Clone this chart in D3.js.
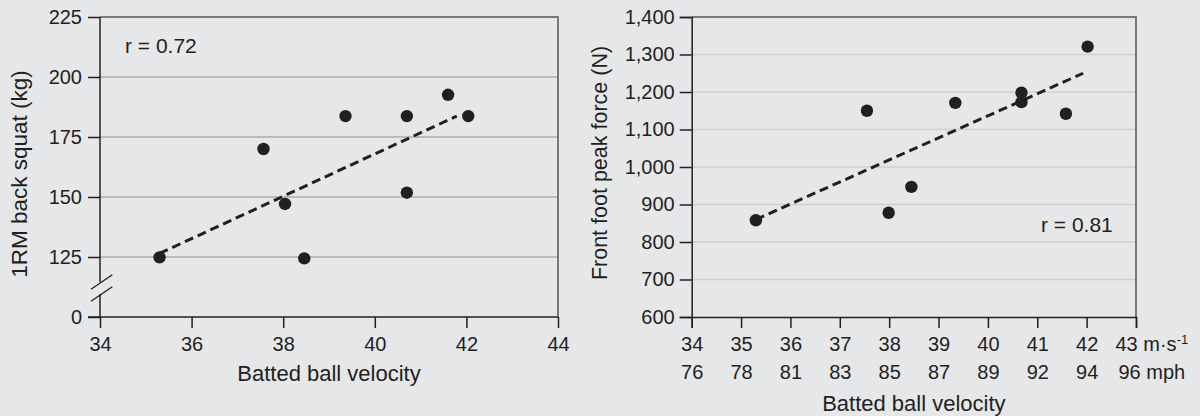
<!DOCTYPE html>
<html><head><meta charset="utf-8">
<script src="https://cdn.jsdelivr.net/npm/d3@7"></script>
<style>
html,body{margin:0;padding:0;background:#e6e7e9;}
svg{display:block;}
text{font-family:"Liberation Sans",Arial,Helvetica,sans-serif;fill:#231f20;}
</style></head>
<body>
<svg id="c" width="1200" height="416"></svg>
<script>
// ---- Data ----
const squatVelocity = [35.3, 37.57, 38.04, 38.46, 39.36, 40.70, 40.70, 41.60, 42.04];
const squatKg       = [124.3, 170.0, 147.1, 122.1, 183.7, 183.7, 151.8, 192.6, 183.7];
const squatTrendX   = [35.3, 41.79];
const squatTrendY   = [126.5, 183.7];
const squatR        = "r = 0.72";
const squatYTicks   = [0, 125, 150, 175, 200, 225];
const squatXTicks   = [34, 36, 38, 40, 42, 44];

const forceVelocity = [35.30, 37.55, 37.99, 38.45, 39.34, 40.68, 40.68, 41.58, 42.02];
const forceN        = [858, 1150, 878, 947, 1171, 1198, 1173, 1142, 1321];
const forceTrendX   = [35.3, 41.93];
const forceTrendY   = [860, 1250];
const forceR        = "r = 0.81";
const forceYTicks   = [600, 700, 800, 900, 1000, 1100, 1200, 1300, 1400];
const forceXTicks   = [34, 35, 36, 37, 38, 39, 40, 41, 42, 43];
const mphLabels     = ["76", "78", "81", "83", "85", "87", "89", "92", "94", "96"];

const xTitle = "Batted ball velocity";
const squatYTitle = "1RM back squat (kg)";
const forceYTitle = "Front foot peak force (N)";

// ---- Drawing ----
const svg = d3.select("#c");
const ink = "#231f20";
const fmtComma = d3.format(",");

svg.append("rect").attr("width",1200).attr("height",416).attr("fill","#e6e7e9");

function styleAxis(g){
  g.selectAll(".tick line").attr("stroke", ink).attr("stroke-width", 1.5);
  g.selectAll(".tick text").attr("font-size", 20).attr("fill", ink)
   .attr("font-family", '"Liberation Sans",Arial,sans-serif');
}

// ===== LEFT CHART =====
const xL = d3.scaleLinear().domain([34, 44]).range([100, 558]);
const yL = d3.scaleLinear().domain([0, 125, 225]).range([317, 257, 17]);
const L = svg.append("g");

// grid
L.selectAll("line.grid").data(squatYTicks.filter(v => v > 0 && v < 225)).join("line")
  .attr("x1", xL(34)).attr("x2", xL(44)).attr("y1", d => yL(d)).attr("y2", d => yL(d))
  .attr("stroke", "#ababab").attr("stroke-width", 1.3);
// top & right border
L.append("path").attr("d", `M${xL(34)},${yL(225)}H${xL(44)}V${yL(0)}`)
  .attr("fill","none").attr("stroke","#555").attr("stroke-width",1.5);

// axes
const axL = L.append("g").attr("transform", `translate(${xL(34)},0)`)
  .call(d3.axisLeft(yL).tickValues(squatYTicks).tickSize(12).tickPadding(6).tickFormat(d3.format("d")));
axL.select(".domain").remove();
styleAxis(axL);
// broken y axis line
const bTop = yL(0) - 35, bBot = yL(0) - 23;
L.append("line").attr("x1", xL(34)).attr("x2", xL(34)).attr("y1", yL(225)).attr("y2", bTop)
  .attr("stroke", ink).attr("stroke-width", 1.5);
L.append("line").attr("x1", xL(34)).attr("x2", xL(34)).attr("y1", bBot).attr("y2", yL(0))
  .attr("stroke", ink).attr("stroke-width", 1.5);
[bTop, bBot].forEach(yy => {
  L.append("line").attr("x1", xL(34) - 9).attr("y1", yy + 7.3).attr("x2", xL(34) + 12.3).attr("y2", yy - 7.3)
    .attr("stroke", ink).attr("stroke-width", 1.3);
});
const axLb = L.append("g").attr("transform", `translate(0,${yL(0)})`)
  .call(d3.axisBottom(xL).tickValues(squatXTicks).tickSize(11).tickPadding(9));
axLb.select(".domain").remove();
styleAxis(axLb);
L.append("line").attr("x1", xL(34) - 12).attr("x2", xL(44)).attr("y1", yL(0)).attr("y2", yL(0))
  .attr("stroke", ink).attr("stroke-width", 1.5);

// trend
L.append("line").attr("x1", xL(squatTrendX[0])).attr("y1", yL(squatTrendY[0]))
  .attr("x2", xL(squatTrendX[1])).attr("y2", yL(squatTrendY[1]))
  .attr("stroke", ink).attr("stroke-width", 3).attr("stroke-dasharray", "9,5");
// points
L.selectAll("circle").data(squatVelocity).join("circle")
  .attr("cx", d => xL(d)).attr("cy", (d,i) => yL(squatKg[i])).attr("r", 6.2).attr("fill", ink);

L.append("text").attr("x", 125).attr("y", 53).attr("font-size", 21).text(squatR);
L.append("text").attr("x", (xL(34)+xL(44))/2).attr("y", 381).attr("text-anchor","middle")
  .attr("font-size", 22).text(xTitle);
L.append("text").attr("transform", "translate(27,174) rotate(-90)").attr("text-anchor","middle")
  .attr("font-size", 22.5).text(squatYTitle);

// ===== RIGHT CHART =====
const xR = d3.scaleLinear().domain([34, 43]).range([691.7, 1136]);
const yR = d3.scaleLinear().domain([600, 1400]).range([317, 17]);
const R = svg.append("g");

R.selectAll("line.grid").data(forceYTicks.filter(v => v > 600 && v < 1400)).join("line")
  .attr("x1", xR(34)).attr("x2", xR(43)).attr("y1", d => yR(d)).attr("y2", d => yR(d))
  .attr("stroke", "#cfcfcf").attr("stroke-width", 1.3);
R.append("path").attr("d", `M${xR(34)},${yR(1400)}H${xR(43)}V${yR(600)}`)
  .attr("fill","none").attr("stroke","#555").attr("stroke-width",1.5);

const axR = R.append("g").attr("transform", `translate(${xR(34)},0)`)
  .call(d3.axisLeft(yR).tickValues(forceYTicks).tickSize(12).tickPadding(5).tickFormat(fmtComma));
axR.select(".domain").attr("stroke", ink).attr("stroke-width", 1.5);
styleAxis(axR);

const axRb = R.append("g").attr("transform", `translate(0,${yR(600)})`)
  .call(d3.axisBottom(xR).tickValues(forceXTicks).tickSize(11).tickPadding(9));
axRb.select(".domain").attr("stroke", ink).attr("stroke-width", 1.5);
styleAxis(axRb);
// second row (mph) and unit labels
axRb.selectAll(".tick").each(function(d, i){
  const g = d3.select(this);
  const last = i === forceXTicks.length - 1;
  const t1 = g.select("text");
  if (last) {
    t1.attr("text-anchor", "start").attr("x", -21).text(null);
    t1.append("tspan").text(d + " m·s");
    t1.append("tspan").attr("font-size", 13).attr("dy", "-0.55em").text("-1");
  }
  g.append("text").attr("y", 48).attr("fill", ink).attr("font-size", 20)
    .attr("font-family", '"Liberation Sans",Arial,sans-serif')
    .attr("text-anchor", last ? "start" : "middle").attr("x", last ? -18 : 0)
    .attr("dy", "0.71em").text(last ? mphLabels[i] + " mph" : mphLabels[i]);
});

R.append("line").attr("x1", xR(forceTrendX[0])).attr("y1", yR(forceTrendY[0]))
  .attr("x2", xR(forceTrendX[1])).attr("y2", yR(forceTrendY[1]))
  .attr("stroke", ink).attr("stroke-width", 3).attr("stroke-dasharray", "9,5");
R.selectAll("circle").data(forceVelocity).join("circle")
  .attr("cx", d => xR(d)).attr("cy", (d,i) => yR(forceN[i])).attr("r", 6.2).attr("fill", ink);

R.append("text").attr("x", 1041).attr("y", 232).attr("font-size", 21).text(forceR);
R.append("text").attr("x", (xR(34)+xR(43))/2).attr("y", 411).attr("text-anchor","middle")
  .attr("font-size", 22).text(xTitle);
R.append("text").attr("transform", "translate(607,163) rotate(-90)").attr("text-anchor","middle")
  .attr("font-size", 21.5).text(forceYTitle);
</script>
</body></html>
